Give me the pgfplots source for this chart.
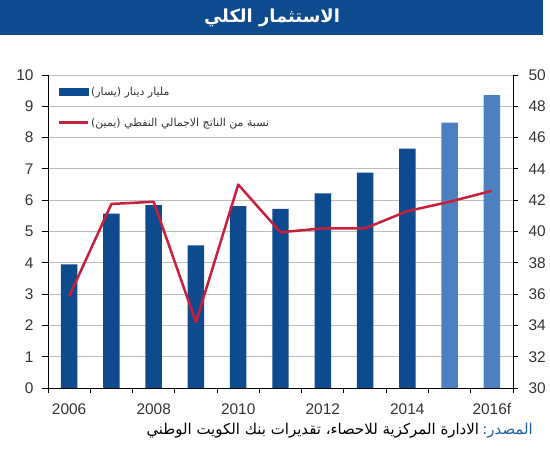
\documentclass[border=0pt]{standalone}
\usepackage{pgfplots}
\pgfplotsset{compat=1.18}
\usepackage{pgfplotstable}
\usepackage{fontspec}
\setmainfont{Liberation Sans}
\newfontfamily\arabicfont[Script=Arabic]{DejaVu Sans}
\TeXXeTstate=1

\definecolor{nbkblue}{HTML}{0D4A8E}
\definecolor{nbklight}{HTML}{4D80C0}
\definecolor{nbkred}{HTML}{C8203A}
\definecolor{gridgray}{HTML}{BDBDBD}
\definecolor{ticktext}{HTML}{333333}
\definecolor{srcblue}{HTML}{1F5FA8}

% Total investment, KD billion (left axis)
\pgfplotstableread{
x val
0 3.95
1 5.57
2 5.84
3 4.56
4 5.81
5 5.72
6 6.22
7 6.88
8 7.65
}\actual
% Forecast years
\pgfplotstableread{
x val
9 8.48
10 9.36
}\forecast
% Share of non-oil GDP, % (right axis)
\pgfplotstableread{
x share
0 35.85
1 41.76
2 41.90
3 34.20
4 43.00
5 39.95
6 40.20
7 40.20
8 41.30
9 41.90
10 42.60
}\share

\pgfplotsset{
  common/.style={
    at={(48bp,62bp)}, anchor=south west,
    scale only axis, width=465bp, height=313bp,
    xmin=-0.5, xmax=10.5,
    tick align=outside,
    /pgf/number format/assume math mode=true,
    tick label style={font=\fontsize{15.5}{18}\selectfont, text=ticktext},
    axis line style={black, line width=0.9bp},
    tick style={black, line width=0.9bp},
  }
}

\begin{document}
\begin{tikzpicture}
\path (0bp,0bp) rectangle (550bp,450bp);
\fill[nbkblue] (0bp,415bp) rectangle (543bp,450bp);
\node[text=white, font=\arabicfont\bfseries\fontsize{18}{20}\selectfont] at (272bp,432.5bp) {\beginR الاستثمار الكلي\endR};

\begin{axis}[common,
  ymin=0, ymax=10,
  axis x line*=bottom, axis y line*=left,
  ytick={0,1,...,10},
  ymajorgrids, grid style={gridgray, line width=0.8bp},
  xtick={0,2,...,10},
  xticklabels={2006,2008,2010,2012,2014,2016f},
  xticklabel style={yshift=-6bp},
  yticklabel style={xshift=-5bp},
  major x tick style={draw=none},
  minor xtick={-0.5,0.5,...,10.5},
  minor tick length=5bp,
  major tick length=6bp,
  legend style={draw=none, fill=none, at={(0.016,0.975)}, anchor=north west,
    font=\arabicfont\fontsize{11}{13}\selectfont, text=ticktext,
    row sep=17bp, inner sep=2bp},
  legend cell align=left,
]
\addplot[ybar, bar width=0.39, bar shift=0, fill=nbkblue, draw=none, forget plot] table[x=x,y=val]{\actual};
\addplot[ybar, bar width=0.39, bar shift=0, fill=nbklight, draw=none, forget plot] table[x=x,y=val]{\forecast};
\addlegendimage{legend image code/.code={\fill[nbkblue] (0bp,-3.5bp) rectangle (29bp,3.5bp);}}
\addlegendentry{\beginR مليار دينار (يسار)\endR}
\addlegendimage{legend image code/.code={\draw[nbkred,line width=2.5bp] (0bp,0bp) -- (29bp,0bp);}}
\addlegendentry{\beginR نسبة من الناتج الاجمالي النفطي (يمين)\endR}
\end{axis}

\begin{axis}[common,
  ymin=30, ymax=50,
  axis y line*=right, axis x line=none,
  ytick={30,32,...,50},
  yticklabel style={xshift=7bp},
  major tick length=5bp,
]
\addplot[nbkred, line width=2.5bp, sharp plot, mark=none, line join=round] table[x=x,y=share]{\share};
\end{axis}

\node[anchor=east, inner sep=0pt, text=srcblue, font=\arabicfont\fontsize{15}{17}\selectfont] (src) at (533bp,19bp)
  {\beginR المصدر:\endR};
\node[anchor=east, inner sep=0pt, font=\arabicfont\fontsize{15}{17}\selectfont] at ([xshift=-3bp]src.east -| src.west)
  {\beginR الادارة المركزية للاحصاء، تقديرات بنك الكويت الوطني\endR};
\end{tikzpicture}
\end{document}
